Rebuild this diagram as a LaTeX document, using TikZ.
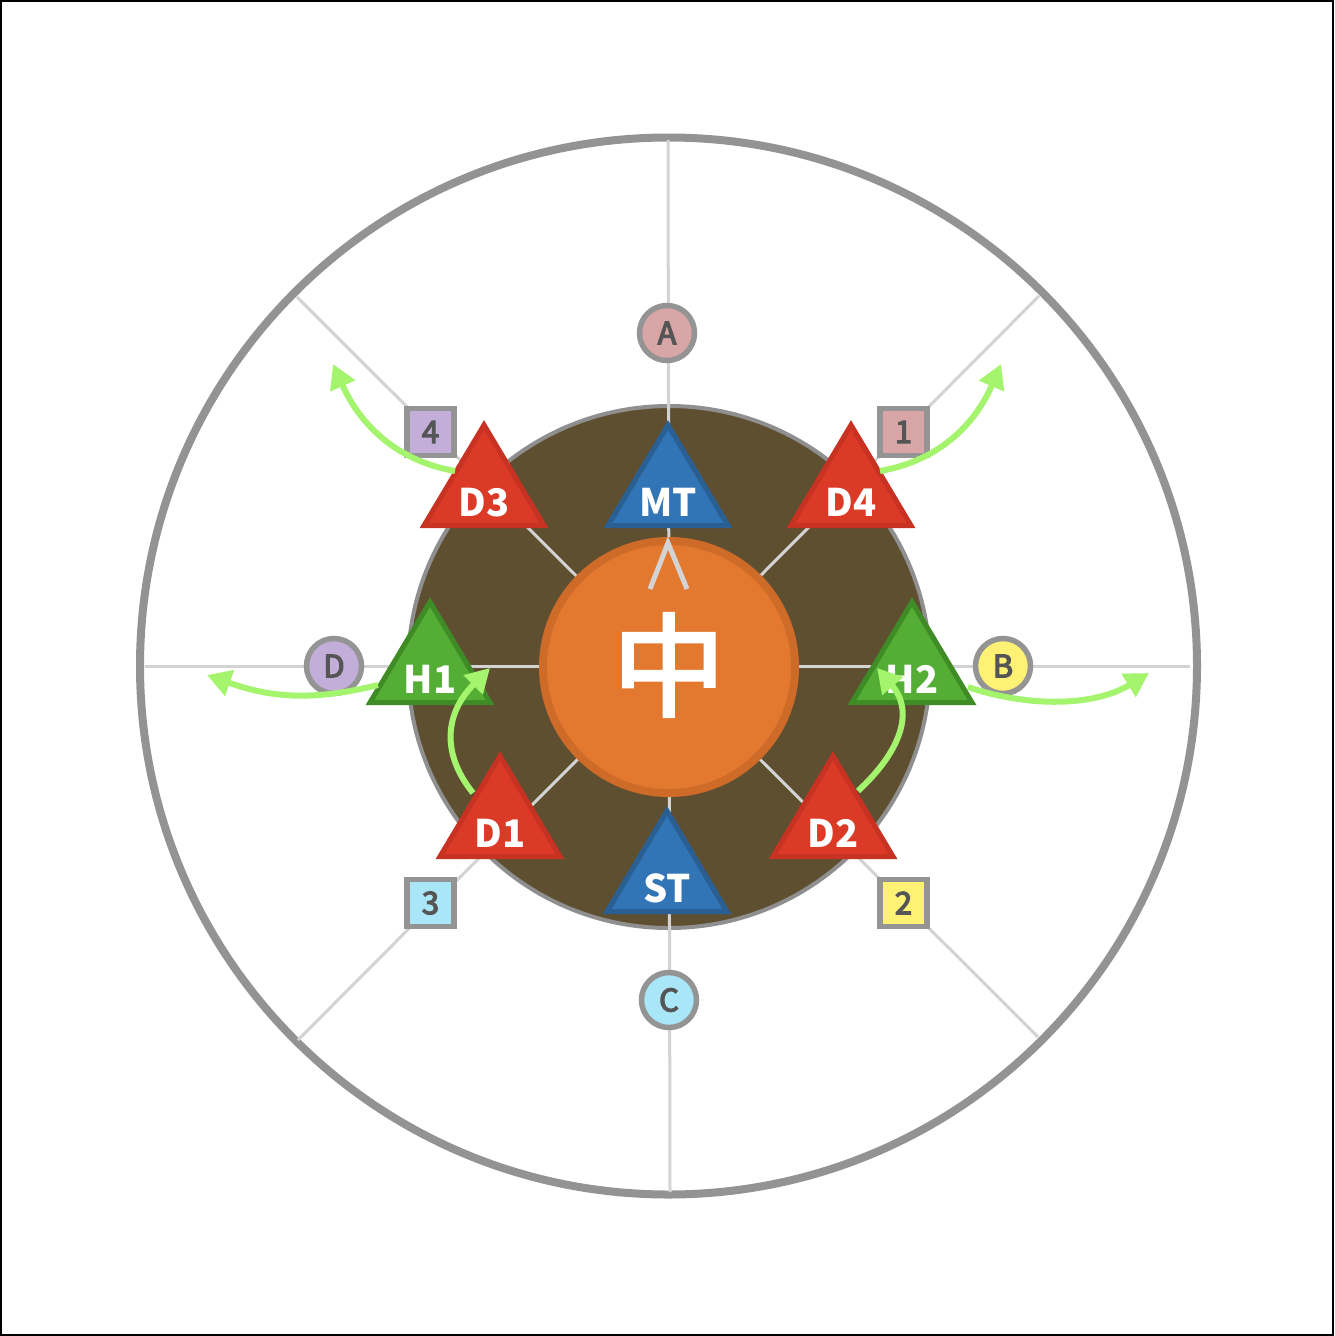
\documentclass[tikz,border=0pt]{standalone}
\usepackage{fontspec}
\setmainfont{Noto Sans CJK JP}
\newfontfamily\centrefont{Noto Sans CJK JP}[FakeBold=3]
\newfontfamily\markfont{Noto Sans CJK JP}[FakeBold=4]
\usetikzlibrary{arrows.meta}
\definecolor{outerGray}{HTML}{939393}
\definecolor{lineGray}{HTML}{D3D3D3}
\definecolor{brownFill}{HTML}{5E4F30}
\definecolor{brownBorder}{HTML}{8F8F8F}
\definecolor{orangeFill}{HTML}{E2792F}
\definecolor{orangeBorder}{HTML}{CF6B29}
\definecolor{redFill}{HTML}{DB3A27}
\definecolor{redBorder}{HTML}{C73222}
\definecolor{blueFill}{HTML}{3275B6}
\definecolor{blueBorder}{HTML}{295F93}
\definecolor{greenFill}{HTML}{54AE35}
\definecolor{greenBorder}{HTML}{3F8B25}
\definecolor{arrowGreen}{HTML}{A4F46E}
\definecolor{mPink}{HTML}{D8A6A6}
\definecolor{mYellow}{HTML}{FEF173}
\definecolor{mCyan}{HTML}{A9E6F8}
\definecolor{mLav}{HTML}{C3AED9}
\definecolor{markerText}{HTML}{555555}
\definecolor{markerBorder}{HTML}{949494}
\tikzset{
  radial/.style={draw=lineGray, line width=3},
  trilabel/.style={text=white, font=\bfseries\fontsize{38}{40}\selectfont, anchor=base, inner sep=0},
  marker/.style={circle, draw=markerBorder, line width=5.5, minimum size=55, inner sep=0, text=markerText, font=\markfont\fontsize{31}{33}\selectfont},
  sqmarker/.style={rectangle, draw=markerBorder, line width=5.5, minimum size=47, inner sep=0, text=markerText, font=\markfont\fontsize{31}{33}\selectfont},
  garrow/.style={draw=arrowGreen, line width=6, -{Triangle[length=24, width=26]}},
}
\newcommand\drawtri[6]{%
  \filldraw[fill=#4, draw=#5, line width=5, line join=miter] (#2,#3+5) -- (#2-60,#3+105.5) -- (#2+60,#3+105.5) -- cycle;
  \node[trilabel] (#1) at (#2,#3+96) {#6};
}
\begin{document}
\begin{tikzpicture}[x=1pt, y=-1pt]
\useasboundingbox (0,0) rectangle (1334,1336);
\fill[white] (0,0) rectangle (1334,1336);
\draw[black, line width=2] (1,1) rectangle (1333,1335);
% outer ring
\draw[outerGray, line width=8] (668.5,666) circle[radius=528.5];
% brown inner disk
\filldraw[fill=brownFill, draw=brownBorder, line width=4] (669,667) circle[radius=261];
% radial lines
\coordinate (vt) at (668,140);
\coordinate (vb) at (670,1192);
\coordinate (hl) at (145,666);
\coordinate (hr) at (1190,666);
\coordinate (nw) at (297,297);
\coordinate (se) at (1038,1037);
\coordinate (ne) at (1039,296);
\coordinate (sw) at (298,1040);
\draw[radial] (vt) -- (vb);
\draw[radial] (hl) -- (hr);
\draw[radial] (nw) -- (se);
\draw[radial] (ne) -- (sw);
% centre disk
\filldraw[fill=orangeFill, draw=orangeBorder, line width=8] (669,667) circle[radius=126];
\node[text=white, font=\centrefont\fontsize{112}{112}\selectfont, inner sep=0] (centre) at (669,665) {中};
\draw[lineGray, line width=5, line join=miter] (650,589) -- (668,543) -- (687,589);
% waymarks
\node[marker, fill=mPink] (mA) at (667,333) {A};
\node[marker, fill=mYellow] (mB) at (1003,666) {B};
\node[marker, fill=mCyan] (mC) at (669,1000) {C};
\node[marker, fill=mLav] (mD) at (334,666) {D};
\node[sqmarker, fill=mPink] (s1) at (903.5,432) {1};
\node[sqmarker, fill=mYellow] (s2) at (903.5,903) {2};
\node[sqmarker, fill=mCyan] (s3) at (430.5,903) {3};
\node[sqmarker, fill=mLav] (s4) at (430.5,432) {4};
% triangles
\drawtri{MT}{668}{420}{blueFill}{blueBorder}{MT}
\drawtri{ST}{667}{806}{blueFill}{blueBorder}{ST}
\drawtri{D3}{484}{420}{redFill}{redBorder}{D3}
\drawtri{D4}{851}{420}{redFill}{redBorder}{D4}
\drawtri{D1}{500}{751}{redFill}{redBorder}{D1}
\drawtri{D2}{833}{751}{redFill}{redBorder}{D2}
\drawtri{H1}{430}{597}{greenFill}{greenBorder}{H1}
\drawtri{H2}{912}{597}{greenFill}{greenBorder}{H2}
% arrows
\coordinate (a3s) at (455,471);  \coordinate (a3e) at (333,364);
\coordinate (a4s) at (880,471);  \coordinate (a4e) at (1001,364);
\coordinate (h1s) at (378,685);  \coordinate (h1e) at (207,675);
\coordinate (h2s) at (968,687);  \coordinate (h2e) at (1149,673);
\coordinate (d1s) at (473,793);  \coordinate (d1e) at (490,668);
\coordinate (d2s) at (858,791);  \coordinate (d2e) at (877,668);
\draw[garrow] (a3s) .. controls (392,460) and (358,420) .. (a3e);
\draw[garrow] (a4s) .. controls (943,460) and (977,420) .. (a4e);
\draw[garrow] (h1s) .. controls (313,701) and (272,698) .. (h1e);
\draw[garrow] (h2s) .. controls (1030,708) and (1095,706) .. (h2e);
\draw[garrow] (d1s) .. controls (440,752) and (446,712) .. (d1e);
\draw[garrow] (d2s) .. controls (900,752) and (915,712) .. (d2e);
\end{tikzpicture}
\end{document}
